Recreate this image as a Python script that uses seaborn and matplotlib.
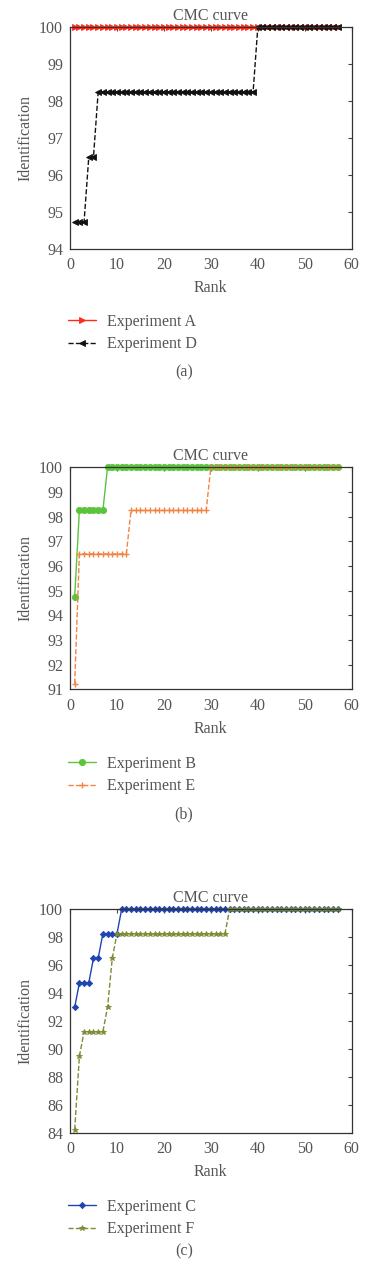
import numpy as np
import pandas as pd
import matplotlib
matplotlib.use("Agg")
import matplotlib.pyplot as plt
import seaborn as sns

sns.set_style("white")
plt.rcParams['font.family'] = ['Liberation Serif', 'DejaVu Serif']
plt.rcParams['text.color'] = '#555555'
plt.rcParams['axes.labelcolor'] = '#555555'
plt.rcParams['xtick.color'] = '#444444'
plt.rcParams['ytick.color'] = '#444444'
plt.rcParams['xtick.labelcolor'] = '#555555'
plt.rcParams['ytick.labelcolor'] = '#555555'

# ---- data (identification rate in %, rank 1..57) ----
ranks = list(range(1, 58))
exp_a = [100.0] * 57
exp_d = [94.74] * 3 + [96.49] * 2 + [98.25] * 34 + [100.0] * 18
exp_b = [94.74] * 1 + [98.25] * 6 + [100.0] * 50
exp_e = [91.23] * 1 + [96.49] * 11 + [98.25] * 17 + [100.0] * 28
exp_c = [92.98] * 1 + [94.74] * 3 + [96.49] * 2 + [98.25] * 4 + [100.0] * 47
exp_f = [84.21, 89.47] + [91.23] * 5 + [92.98, 96.49] + [98.25] * 24 + [100.0] * 24

x_ticks = [0, 10, 20, 30, 40, 50, 60]
yticks_a = [94, 95, 96, 97, 98, 99, 100]
yticks_b = [91, 92, 93, 94, 95, 96, 97, 98, 99, 100]
yticks_c = [84, 86, 88, 90, 92, 94, 96, 98, 100]

W, H = 373, 1261
fig = plt.figure(figsize=(W / 100, H / 100), dpi=100)

FS = 11.5


def make_axes(top_px, bot_px):
    left, right = 70, 351.7
    return fig.add_axes([left / W, 1 - bot_px / H, (right - left) / W, (bot_px - top_px) / H])


def style_axes(ax, yticks):
    ax.set_xlim(0, 60)
    ax.set_ylim(yticks[0], yticks[-1])
    ax.set_xticks(x_ticks)
    ax.set_yticks(yticks)
    ax.tick_params(direction='in', top=True, right=True, length=3, width=0.8,
                   labelsize=FS)
    ax.tick_params(axis='x', pad=6)
    ax.tick_params(axis='y', pad=5)
    for s in ax.spines.values():
        s.set_color('#333333')
        s.set_linewidth(0.9)
    ax.set_title("CMC curve", fontsize=FS, pad=5, color='#555555')
    ax.set_xlabel("Rank", fontsize=FS, labelpad=5)
    ax.set_ylabel("Identification", fontsize=FS, labelpad=4)


def add_legend(ax, top_px):
    h, l = ax.get_legend_handles_labels()
    ax.legend(h, l, loc='upper left', bbox_to_anchor=(68 / W, 1 - top_px / H),
              bbox_transform=fig.transFigure, frameon=False, fontsize=FS,
              handlelength=1.75, handletextpad=0.7, labelspacing=0.4,
              borderpad=0, borderaxespad=0)


def add_caption(text, y_px):
    fig.text(184 / W, 1 - y_px / H, text, ha='center', va='center', fontsize=FS,
             color='#555555')


def series(ax, y, color, marker, ms, ls, label, mew=0.6):
    sns.lineplot(x=ranks, y=y, ax=ax, color=color, marker=marker, markersize=ms,
                 markeredgecolor=color, markerfacecolor=color, markeredgewidth=mew,
                 linewidth=1.0, linestyle=ls, label=label, clip_on=False)


# ---- (a) ----
ax1 = make_axes(27.3, 249)
series(ax1, exp_a, '#ff2a1a', '>', 4.5, '-', 'Experiment A')
series(ax1, exp_d, '#111111', '<', 4.5, '--', 'Experiment D')
style_axes(ax1, yticks_a)
add_legend(ax1, 314)
add_caption("(a)", 372)

# ---- (b) ----
ax2 = make_axes(467.3, 689.3)
series(ax2, exp_b, '#5cc43c', 'o', 4.5, '-', 'Experiment B')
series(ax2, exp_e, '#f28444', '+', 5, '--', 'Experiment E', mew=1.0)
style_axes(ax2, yticks_b)
add_legend(ax2, 756)
add_caption("(b)", 814)

# ---- (c) ----
ax3 = make_axes(909.3, 1132.7)
series(ax3, exp_c, '#1f45b0', 'D', 3.2, '-', 'Experiment C')
series(ax3, exp_f, '#7d8c35', '*', 4, '--', 'Experiment F')
style_axes(ax3, yticks_c)
add_legend(ax3, 1199)
add_caption("(c)", 1251)

fig.savefig("out.png", dpi=100)
